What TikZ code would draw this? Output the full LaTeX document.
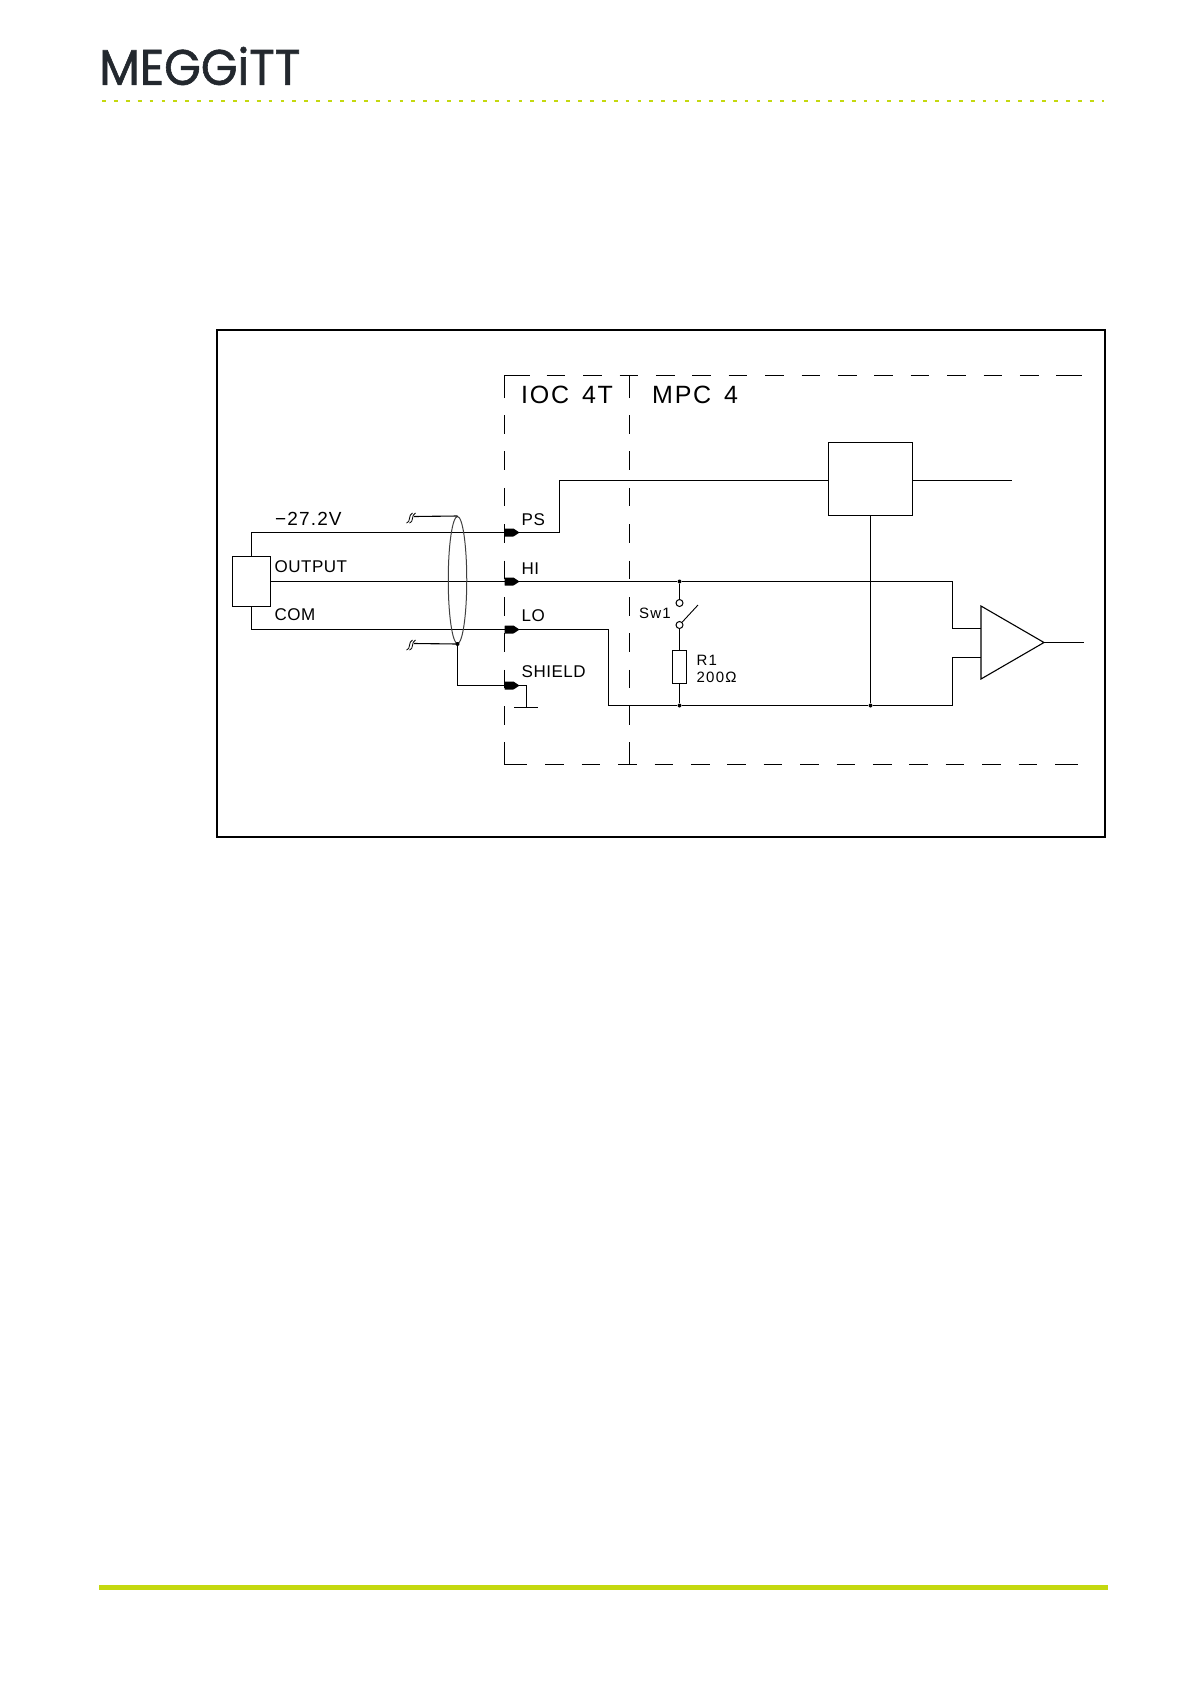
\documentclass[tikz,border=0pt]{standalone}
\usepackage{fontspec}
\setmainfont{Liberation Sans}
\newfontfamily\logofont[FakeBold=1.2]{Poppins}
\usetikzlibrary{shapes.geometric}
\usetikzlibrary{positioning}
\definecolor{meggreen}{HTML}{C4D80F}
\definecolor{megdark}{HTML}{23282E}
\begin{document}
\begin{tikzpicture}[x=1pt, y=-1pt,
    wire/.style={line width=1.1pt},
    box/.style={draw, line width=1.1pt, inner sep=0pt, minimum width=#1},
    dashbox/.style={line width=1.1pt, dash pattern=on 18.6pt off 17.8pt},
    label/.style={inner sep=0pt, anchor=west, font=\fontsize{17}{17}\selectfont\addfontfeature{LetterSpace=3}},
    widelabel/.style={inner sep=0pt, anchor=west, font=\fontsize{19}{19}\selectfont\addfontfeature{LetterSpace=6}},
    title/.style={inner sep=0pt, anchor=west, font=\fontsize{25}{25}\selectfont\addfontfeature{LetterSpace=7}},
    small/.style={inner sep=0pt, anchor=west, font=\fontsize{15}{15}\selectfont\addfontfeature{LetterSpace=8}},
    junct/.style={circle, fill, inner sep=0pt, minimum size=4pt},
    contact/.style={circle, draw, fill=white, line width=1pt, inner sep=0pt, minimum size=7pt},
    plug/.pic={\fill[rounded corners=0.5pt] (0,-4) -- (9,-4) -- (15,0) -- (9,4) -- (0,4) -- cycle;},
    hatch/.pic={\draw[line width=0.8pt] (-7.5,6.5) .. controls (-3,6) and (-6,-2) .. (-1.5,-3.5)
                                         (-4.5,6.5) .. controls (0,6) and (-3,-2) .. (1.5,-3.5);}]
  \useasboundingbox (0,0) rectangle (1190,1684);

  % header and footer
  \node[inner sep=0pt, anchor=west, text=megdark, font=\logofont\fontsize{50}{50}\selectfont] (logo) at (99,66) {\scalebox{.945}[1]{MEGGiTT}};
  \coordinate (dots_l) at (102,100.7);
  \coordinate (dots_r) at (1104,100.7);
  \draw[meggreen, line width=2.4pt, dash pattern=on 3.8pt off 8.1pt] (dots_l) -- (dots_r);
  \coordinate (foot_l) at (99,1587.3);
  \coordinate (foot_r) at (1108,1587.3);
  \draw[meggreen, line width=5.3pt] (foot_l) -- (foot_r);

  % frame
  \node[draw, line width=2pt, inner sep=0pt, minimum width=888pt, minimum height=507pt, anchor=north west] (frame) at (216,329) {};

  % modules
  \draw[dashbox] (546.7,375.5) -- (1050,375.5);
  \draw[dashbox] (545.3,764.5) -- (1050,764.5);
  \draw[dashbox] (504.5,415) -- (504.5,730);
  \draw[dashbox] (629.5,415) -- (629.5,730);
  \draw[wire] (504.5,398) -- (504.5,375.5) -- (529.6,375.5);
  \draw[wire] (504.5,742) -- (504.5,764.5) -- (527,764.5);
  \draw[wire] (629.5,398) -- (629.5,375.5);
  \draw[wire] (629.5,742) -- (629.5,764.5);
  \draw[wire] (1056,375.5) -- (1082,375.5);
  \draw[wire] (1055,764.5) -- (1078,764.5);
  \node[title] (ioc) at (521,395) {IOC\, 4T};
  \node[title] (mpc) at (652,395) {MPC\, 4};

  % sensor
  \node[box=38pt, minimum height=50pt] (sensor) at (251.5,581.5) {};
  \coordinate (ps_in) at (504.5,532.5);
  \coordinate (hi_in) at (504.5,581.5);
  \coordinate (lo_in) at (504.5,629.5);
  \coordinate (sh_in) at (504.5,685.5);
  \draw[wire] (sensor.north) -- (sensor.north |- ps_in) -- (ps_in);
  \draw[wire] (sensor.east |- hi_in) -- (hi_in);
  \draw[wire] (sensor.south) -- (sensor.south |- lo_in) -- (lo_in);
  \node[widelabel] (l_volt) at (275,518.5) {−27.2V};
  \node[label] (l_out) at (274.5,567) {OUTPUT};
  \node[label] (l_com) at (274.5,615) {COM};

  % cable shield
  \node[draw=black!75, ellipse, line width=1pt, inner sep=0pt, minimum width=18.5pt, minimum height=127pt] (cable) at (457.5,580) {};
  \coordinate (tail_a) at (414,516.5);
  \coordinate (tail_b) at (414,643.5);
  \draw[wire] (tail_a) -- (cable.north);
  \draw[wire] (tail_b) -- (cable.south);
  \pic at (tail_a) {hatch};
  \pic at (tail_b) {hatch};
  \node[junct] (j_sh) at (cable.south) {};
  \draw[wire] (j_sh) -- (j_sh |- sh_in) -- (sh_in);

  % terminals
  \pic at (ps_in) {plug};
  \pic at (hi_in) {plug};
  \pic at (lo_in) {plug};
  \pic at (sh_in) {plug};
  \node[label] (l_ps) at (521.5,520) {PS};
  \node[label] (l_hi) at (521.5,569) {HI};
  \node[label] (l_lo) at (521.5,615.5) {LO};
  \node[label] (l_sh) at (521.5,671.5) {SHIELD};
  \coordinate (gnd) at (526.5,707.5);
  \coordinate (gnd_l) at (514,707.5);
  \coordinate (gnd_r) at (538,707.5);
  \draw[wire] (sh_in) -- (gnd |- sh_in) -- (gnd);
  \draw[wire] (gnd_l) -- (gnd_r);

  % supply block
  \node[box=84pt, minimum height=73pt] (block) at (870.5,479) {};
  \coordinate (b_out) at (1012,480.5);
  \draw[wire] (ps_in) -- (559.5,532.5) -- (559.5,480.5) -- (block.west |- b_out);
  \draw[wire] (block.east |- b_out) -- (b_out);

  % input lines
  \node[junct] (j_hi) at (679.5,581.5) {};
  \node[junct] (j_lo) at (679.5,705.5) {};
  \node[junct] (j_com) at (870.5,705.5) {};
  \coordinate (amp_top) at (981,606);
  \coordinate (amp_bot) at (981,679);
  \coordinate (amp_tip) at (1044,642.5);
  \coordinate (amp_a) at (981,628.5);
  \coordinate (amp_b) at (981,657.5);
  \coordinate (amp_out) at (1084,642.5);
  \draw[wire, line join=miter] (amp_top) -- (amp_tip) -- (amp_bot) -- cycle;
  \draw[wire] (amp_tip) -- (amp_out);
  \draw[wire] (hi_in) -- (j_hi) -- (952.5,581.5) -- (952.5,628.5) -- (amp_a);
  \draw[wire] (lo_in) -- (608.5,629.5) -- (608.5,705.5) -- (j_lo) -- (j_com) -- (952.5,705.5) -- (952.5,657.5) -- (amp_b);
  \draw[wire] (block.south) -- (j_com);

  % switch and resistor
  \node[contact] (sw_a) at (679.5,603) {};
  \node[contact] (sw_b) at (679.5,625) {};
  \coordinate (sw_end) at (698,605);
  \node[box=14pt, minimum height=33pt] (r1) at (679.5,667) {};
  \draw[wire] (j_hi) -- (sw_a);
  \draw[wire] (sw_b) -- (r1.north);
  \draw[wire] (r1.south) -- (j_lo);
  \draw[line width=0.9pt] (sw_b) -- (sw_end);
  \node[small] (l_sw) at (639,613) {Sw1};
  \node[small] (l_r1) at (696.5,660) {R1};
  \node[small] (l_ohm) at (696.5,677.5) {200Ω};
\end{tikzpicture}
\end{document}
